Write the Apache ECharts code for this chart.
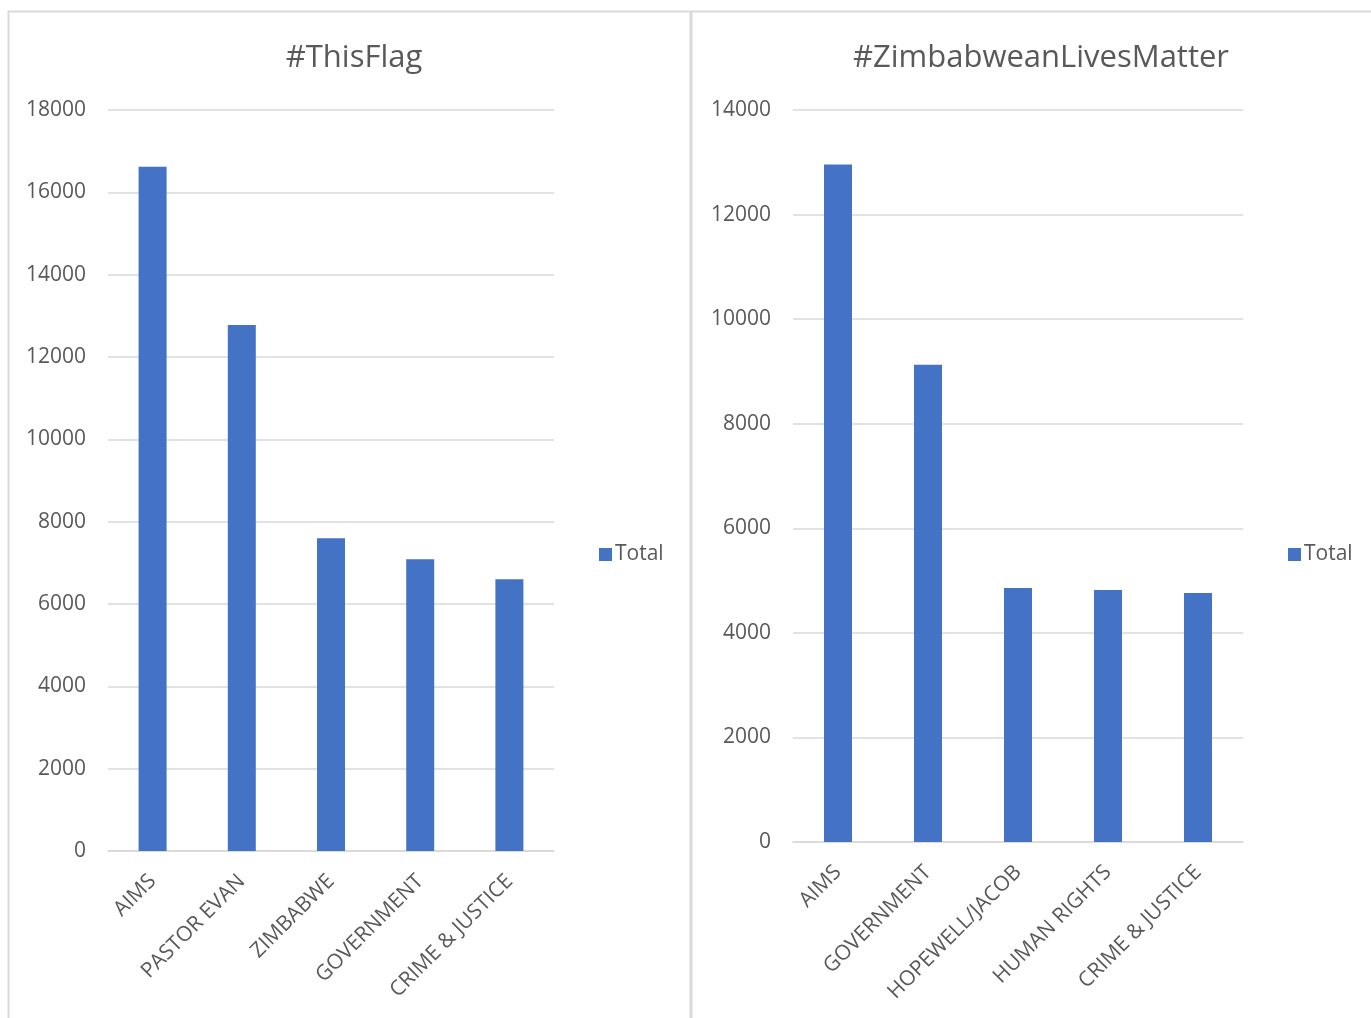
<!DOCTYPE html>
<html>
<head>
<meta charset="utf-8">
<title>#ThisFlag / #ZimbabweanLivesMatter</title>
<script src="https://cdn.jsdelivr.net/npm/echarts@6/dist/echarts.min.js"></script>
<style>
  html, body { margin: 0; padding: 0; background: #ffffff; }
  #chart { width: 1371px; height: 1018px; }
</style>
</head>
<body>
<div id="chart"></div>
<script>
// Topic totals per hashtag
const flagCategories = ['AIMS', 'PASTOR EVAN', 'ZIMBABWE', 'GOVERNMENT', 'CRIME & JUSTICE'];
const flagTotals = [16620, 12780, 7600, 7090, 6600];

const zlmCategories = ['AIMS', 'GOVERNMENT', 'HOPEWELL/JACOB', 'HUMAN RIGHTS', 'CRIME & JUSTICE'];
const zlmTotals = [12960, 9130, 4860, 4820, 4760];

// Value-axis ranges
const flagAxisMax = 18000;
const zlmAxisMax = 14000;
const axisStep = 2000;

const FONT = '"Open Sans", "Noto Sans", sans-serif';
const TEXT = '#595959';
const GRID_LINE = '#d9d9d9';
const BAR = '#4472c4';

function catAxis(gridIndex, data) {
  return {
    type: 'category',
    gridIndex: gridIndex,
    data: data,
    axisLine: { show: true, lineStyle: { color: GRID_LINE, width: 1.5 } },
    axisTick: { show: false },
    axisLabel: {
      rotate: 45,
      interval: 0,
      margin: 27,
      color: TEXT,
      fontFamily: FONT,
      fontSize: 21
    }
  };
}

function valAxis(gridIndex, max) {
  return {
    type: 'value',
    gridIndex: gridIndex,
    min: 0,
    max: max,
    interval: axisStep,
    axisLine: { show: false },
    axisTick: { show: false },
    splitLine: { lineStyle: { color: GRID_LINE, width: 1.5 } },
    axisLabel: {
      margin: 22,
      color: TEXT,
      fontFamily: FONT,
      fontSize: 21,
      formatter: function (v) { return String(v); }
    }
  };
}

const legendStyle = {
  data: ['Total'],
  top: 539,
  icon: 'rect',
  itemWidth: 13,
  itemHeight: 13,
  itemGap: 6,
  selectedMode: false,
  textStyle: { color: TEXT, fontFamily: FONT, fontSize: 21, padding: [0, 0, 0, -2] }
};

const chart = echarts.init(document.getElementById('chart'), null, { renderer: 'canvas' });

chart.setOption({
  animation: false,
  backgroundColor: '#ffffff',
  graphic: [
    {
      type: 'rect',
      shape: { x: 8.5, y: 11.5, width: 682, height: 1030 },
      style: { fill: 'none', stroke: GRID_LINE, lineWidth: 2 },
      silent: true,
      z: -10
    },
    {
      type: 'rect',
      shape: { x: 691.5, y: 11.5, width: 700, height: 1030 },
      style: { fill: 'none', stroke: GRID_LINE, lineWidth: 2 },
      silent: true,
      z: -10
    }
  ],
  title: [
    {
      text: '#ThisFlag',
      left: 349,
      top: 38,
      textAlign: 'center',
      textStyle: { color: TEXT, fontFamily: FONT, fontSize: 31, fontWeight: 'normal' }
    },
    {
      text: '#ZimbabweanLivesMatter',
      left: 1036,
      top: 38,
      textAlign: 'center',
      textStyle: { color: TEXT, fontFamily: FONT, fontSize: 31, fontWeight: 'normal' }
    }
  ],
  legend: [
    Object.assign({ left: 594 }, legendStyle),
    Object.assign({ left: 1283 }, legendStyle)
  ],
  grid: [
    { left: 108, top: 110, width: 446, height: 741, containLabel: false },
    { left: 793, top: 110, width: 450, height: 732, containLabel: false }
  ],
  xAxis: [catAxis(0, flagCategories), catAxis(1, zlmCategories)],
  yAxis: [valAxis(0, flagAxisMax), valAxis(1, zlmAxisMax)],
  series: [
    {
      name: 'Total',
      type: 'bar',
      xAxisIndex: 0,
      yAxisIndex: 0,
      data: flagTotals,
      barWidth: 28,
      itemStyle: { color: BAR }
    },
    {
      name: 'Total',
      type: 'bar',
      xAxisIndex: 1,
      yAxisIndex: 1,
      data: zlmTotals,
      barWidth: 28,
      itemStyle: { color: BAR }
    }
  ]
});
</script>
</body>
</html>
